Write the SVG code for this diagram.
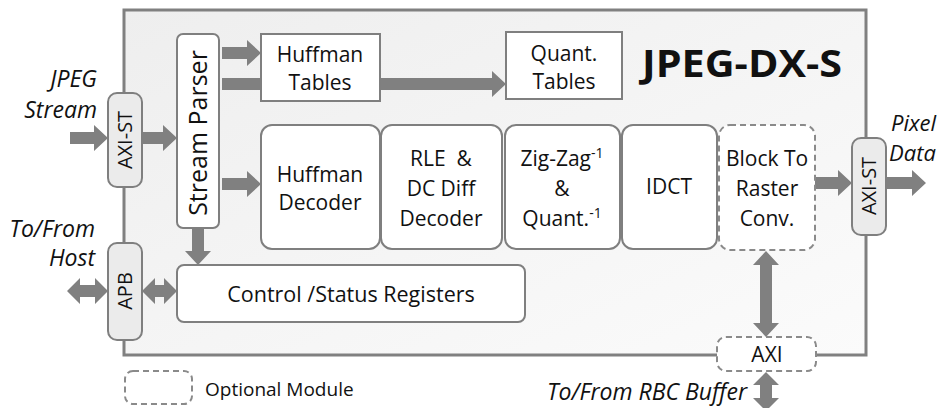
<svg xmlns="http://www.w3.org/2000/svg" width="938" height="408" viewBox="0 0 938 408">
<defs>
<linearGradient id="bg" x1="0" y1="0" x2="1" y2="1">
<stop offset="0" stop-color="#eeeeee"/>
<stop offset="1" stop-color="#fbfbfb"/>
</linearGradient>
<style>
.t{font-family:"Open Sans","Liberation Sans",sans-serif;font-size:21px;fill:#111;text-anchor:middle}
.it{font-family:"Open Sans","Liberation Sans",sans-serif;font-size:23px;font-style:italic;fill:#111}
.box{fill:#fff;stroke:#7f7f7f;stroke-width:2}
.if{fill:#ebebeb;stroke:#7f7f7f;stroke-width:2}
.dash{fill:#fff;stroke:#8a8a8a;stroke-width:2;stroke-dasharray:6 4}
.ar{fill:#808080}
.sup{font-size:14px}
</style>
</defs>
<rect width="938" height="408" fill="#fff"/>
<g id="frame">
<rect x="124" y="10" width="742" height="345" fill="url(#bg)" stroke="#808080" stroke-width="3"/>
<text x="742" y="77" font-family="'Open Sans','Liberation Sans',sans-serif" font-weight="bold" font-size="37" text-anchor="middle" fill="#111" textLength="200" lengthAdjust="spacingAndGlyphs">JPEG-DX-S</text>
</g>
<g id="connectors">
<polygon class="ar" points="70,132 94,132 94,125 108,138 94,151 94,144 70,144"/>
<polygon class="ar" points="142,132 163,132 163,125 177,138 163,151 163,144 142,144"/>
<polygon class="ar" points="222,47 247,47 247,40 261,53 247,66 247,59 222,59"/>
<polygon class="ar" points="222,78 492,78 492,71 506,84 492,97 492,90 222,90"/>
<polygon class="ar" points="222,178 247,178 247,171 261,184 247,197 247,190 222,190"/>
<polygon class="ar" points="192,228 204,228 204,251 211,251 198,265 185,251 192,251"/>
<polygon class="ar" points="67,291 80,278 80,285 95,285 95,278 108,291 95,304 95,297 80,297 80,304"/>
<polygon class="ar" points="142,291 155,278 155,285 164,285 164,278 177,291 164,304 164,297 155,297 155,304"/>
<polygon class="ar" points="815,177 838,177 838,170 852,183 838,196 838,189 815,189"/>
<polygon class="ar" points="886,177 912,177 912,170 926,183 912,196 912,189 886,189"/>
<polygon class="ar" points="766,251 779,265 772,265 772,323 779,323 766,337 753,323 760,323 760,265 753,265"/>
<polygon class="ar" points="766,372 779,385 772,385 772,398 779,398 766,411 753,398 760,398 760,385 753,385"/>
</g>
<g id="axi-st-in">
<rect class="if" x="108" y="93" width="34" height="94" rx="9"/>
<text class="t" transform="translate(132,140) rotate(-90)" style="font-size:20px">AXI-ST</text>
</g>
<g id="stream-parser">
<rect class="box" x="177" y="34" width="42" height="194" rx="6"/>
<text class="t" transform="translate(207,133) rotate(-90)" style="font-size:25px">Stream Parser</text>
</g>
<g id="huffman-tables">
<rect class="box" x="261" y="34" width="119" height="67"/>
<text class="t" x="320" y="62">Huffman</text>
<text class="t" x="320" y="90">Tables</text>
</g>
<g id="quant-tables">
<rect class="box" x="506" y="32" width="116" height="67"/>
<text class="t" x="564" y="61">Quant.</text>
<text class="t" x="564" y="89">Tables</text>
</g>
<g id="huffman-decoder">
<rect class="box" x="261" y="125" width="119" height="124" rx="11"/>
<text class="t" x="320" y="182">Huffman</text>
<text class="t" x="320" y="210">Decoder</text>
</g>
<g id="rle-decoder">
<rect class="box" x="381" y="125" width="121" height="124" rx="11"/>
<text class="t" x="441" y="166" xml:space="preserve">RLE  &amp;</text>
<text class="t" x="441" y="196">DC Diff</text>
<text class="t" x="441" y="226">Decoder</text>
</g>
<g id="zigzag-quant">
<rect class="box" x="505" y="125" width="115" height="124" rx="11"/>
<text class="t" x="562" y="166">Zig-Zag<tspan class="sup" dy="-8">-1</tspan></text>
<text class="t" x="562" y="196">&amp;</text>
<text class="t" x="562" y="226">Quant.<tspan class="sup" dy="-8">-1</tspan></text>
</g>
<g id="idct">
<rect class="box" x="622" y="125" width="95" height="124" rx="11"/>
<text class="t" x="669" y="194">IDCT</text>
</g>
<g id="block-to-raster">
<rect class="dash" x="719" y="125" width="96" height="125" rx="11"/>
<text class="t" x="767" y="166">Block To</text>
<text class="t" x="767" y="196">Raster</text>
<text class="t" x="767" y="226">Conv.</text>
</g>
<g id="axi-st-out">
<rect class="if" x="852" y="138" width="34" height="97" rx="9"/>
<text class="t" transform="translate(876,186) rotate(-90)" style="font-size:20px">AXI-ST</text>
</g>
<g id="control-status">
<rect class="box" x="177" y="265" width="348" height="57" rx="7"/>
<text class="t" x="351" y="302" style="font-size:21.5px">Control /Status Registers</text>
</g>
<g id="apb">
<rect class="if" x="108" y="243" width="34" height="97" rx="9"/>
<text class="t" transform="translate(132,291) rotate(-90)" style="font-size:20px">APB</text>
</g>
<g id="axi">
<rect class="dash" x="717" y="337" width="99" height="34" rx="9"/>
<text class="t" x="767" y="362">AXI</text>
</g>
<g id="labels">
<text class="it" x="97" y="87" style="text-anchor:end">JPEG</text>
<text class="it" x="97" y="118" style="text-anchor:end">Stream</text>
<text class="it" x="95" y="237" style="text-anchor:end">To/From</text>
<text class="it" x="95" y="266" style="text-anchor:end">Host</text>
<text class="it" x="891" y="131" style="font-size:22px">Pixel</text>
<text class="it" x="889" y="161" style="font-size:22px">Data</text>
<text class="it" x="747" y="400" style="text-anchor:end">To/From RBC Buffer</text>
</g>
<g id="legend">
<rect class="dash" x="125" y="371" width="67" height="33" rx="8"/>
<text class="t" x="205" y="396" style="font-size:19px;text-anchor:start">Optional Module</text>
</g>
</svg>
